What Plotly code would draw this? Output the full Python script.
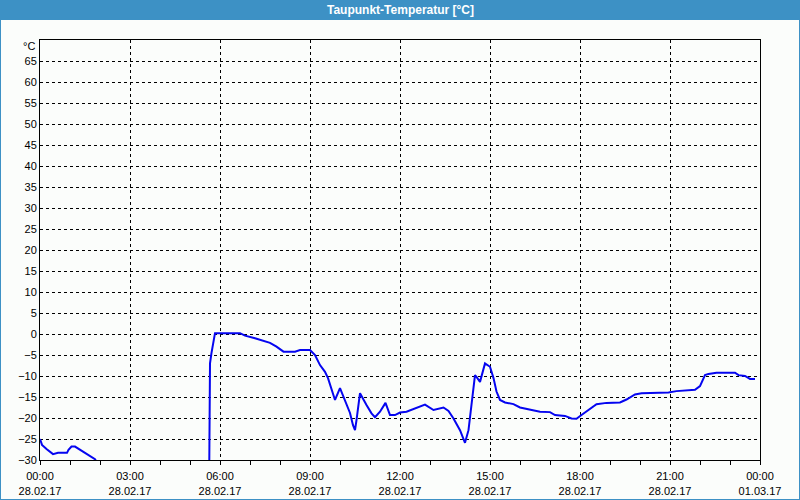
import plotly.graph_objects as go
import pandas as pd

# ---- data ----
title_text = "Taupunkt-Temperatur [°C]"
minutes = [0, 4, 13, 26, 36, 54, 57, 63, 70, 80, 93, 110, 118, 130, 338,
           340, 343, 350, 400, 410, 430, 460, 473, 487, 510, 520, 540, 550, 560, 570,
           576, 590, 600, 610, 620, 626, 630, 633, 640, 653, 663, 670, 680, 691, 700,
           710, 720, 733, 750, 770, 787, 807, 817, 827, 840, 850, 857, 863, 870, 873,
           880, 890, 900, 907, 913, 920, 930, 947, 960, 1000, 1020, 1030, 1050, 1063, 1073,
           1083, 1100, 1113, 1133, 1160, 1173, 1190, 1203, 1223, 1257, 1273, 1310, 1320, 1330, 1337,
           1353, 1390, 1397, 1410, 1420, 1430]
dewpoint = [-25.0, -26.4, -27.4, -28.6, -28.3, -28.3, -27.6, -26.8, -26.8, -27.6, -28.6, -29.8, -31.5, -40, -40,
            -7.0, -4.5, 0.2, 0.2, -0.4, -1.0, -2.1, -3.0, -4.2, -4.2, -3.8, -3.8, -5.0, -7.4, -9.0,
            -10.5, -15.7, -12.9, -16.1, -18.8, -21.7, -22.9, -20.5, -14.1, -16.9, -18.9, -19.8, -18.5, -16.4, -19.3,
            -19.3, -18.7, -18.5, -17.7, -16.8, -18.1, -17.5, -18.3, -20.1, -22.9, -25.9, -22.9, -16.5, -9.8, -10.2,
            -11.4, -7.0, -7.8, -10.5, -13.7, -15.7, -16.3, -16.7, -17.5, -18.5, -18.6, -19.3, -19.5, -20.1, -20.2,
            -19.3, -17.9, -16.7, -16.4, -16.3, -15.6, -14.4, -14.1, -14.0, -13.9, -13.6, -13.3, -12.4, -9.8, -9.5,
            -9.2, -9.2, -9.8, -10.0, -10.7, -10.7]
x_tick_hours = [0, 3, 6, 9, 12, 15, 18, 21, 24]
x_tick_text = ["00:00<br>28.02.17", "03:00<br>28.02.17", "06:00<br>28.02.17",
               "09:00<br>28.02.17", "12:00<br>28.02.17", "15:00<br>28.02.17",
               "18:00<br>28.02.17", "21:00<br>28.02.17", "00:00<br>01.03.17"]
y_ticks = list(range(-30, 70, 5))
y_unit = "°C"

base = pd.Timestamp("2017-02-28 00:00")
times = [base + pd.Timedelta(minutes=m) for m in minutes]
tickvals = [base + pd.Timedelta(hours=h) for h in x_tick_hours]

W, H = 800, 500
ML, MR, MT, MB = 40, 40, 40, 40
PW, PH = W - ML - MR, H - MT - MB
bg = "#fbfdfb"
bar = "#3d91c5"
font = dict(family="Liberation Sans, Arial, sans-serif", size=11, color="#000000")

fig = go.Figure()
fig.add_trace(go.Scatter(x=times, y=dewpoint, mode="lines",
                         line=dict(color="#0505f0", width=2), hoverinfo="skip"))

def px_x(p):
    return (p - ML) / PW

def px_y(p):
    return (H - MB - p) / PH

shapes = [
    dict(type="rect", xref="paper", yref="paper", x0=px_x(0), x1=px_x(W), y0=px_y(20), y1=px_y(0),
         fillcolor=bar, line=dict(width=0), layer="below"),
    dict(type="line", xref="paper", yref="paper", x0=px_x(0.5), x1=px_x(0.5), y0=px_y(0), y1=px_y(H),
         line=dict(color=bar, width=1)),
    dict(type="line", xref="paper", yref="paper", x0=px_x(W - 0.5), x1=px_x(W - 0.5), y0=px_y(0), y1=px_y(H),
         line=dict(color=bar, width=1)),
    dict(type="line", xref="paper", yref="paper", x0=px_x(0), x1=px_x(W), y0=px_y(H - 0.5), y1=px_y(H - 0.5),
         line=dict(color=bar, width=1)),
]

fig.update_layout(
    width=W, height=H,
    margin=dict(l=ML, r=MR, t=MT, b=MB, autoexpand=False),
    paper_bgcolor=bg, plot_bgcolor=bg,
    showlegend=False,
    font=font,
    shapes=shapes,
    annotations=[
        dict(text="<b>" + title_text + "</b>", xref="paper", yref="paper", x=0.5, y=px_y(10),
             xanchor="center", yanchor="middle", showarrow=False,
             font=dict(family="Liberation Sans, Arial, sans-serif", size=12, color="#ffffff")),
        dict(text=y_unit, xref="paper", yref="paper", x=px_x(37), y=px_y(46),
             xanchor="right", yanchor="middle", showarrow=False, font=font),
    ],
)

fig.update_xaxes(
    type="date", automargin=False,
    range=[base, base + pd.Timedelta(hours=24)],
    tickvals=tickvals, ticktext=x_tick_text,
    ticks="outside", ticklen=4, tickcolor="#000000", tickwidth=1,
    ticklabelstandoff=2,
    minor=dict(dtick=3600000, ticks="outside", ticklen=4, tickcolor="#000000", showgrid=False),
    showgrid=True, gridcolor="#000000", gridwidth=1, griddash="3px,3px",
    showline=True, linecolor="#000000", linewidth=1, mirror=True,
    zeroline=False, tickfont=font,
)
fig.update_yaxes(
    range=[-30, 70], automargin=False,
    tickvals=y_ticks,
    ticks="", showgrid=True, gridcolor="#000000", gridwidth=1, griddash="3px,3px",
    showline=True, linecolor="#000000", linewidth=1, mirror=True,
    zeroline=False, tickfont=font,
)

fig.write_html("out.html")
